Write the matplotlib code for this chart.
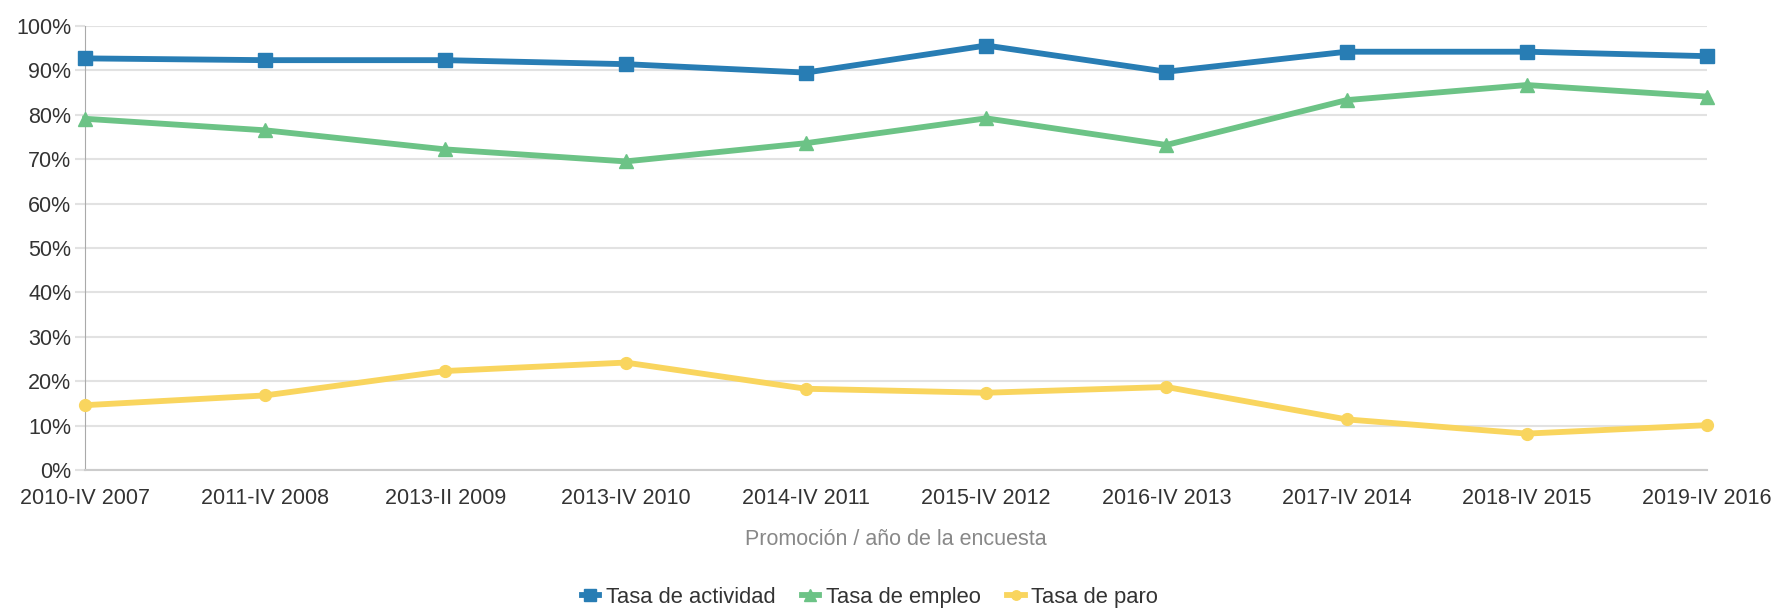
import numpy as np
import matplotlib
matplotlib.use("Agg")
import matplotlib.pyplot as plt

plt.rcParams['font.family'] = ['Liberation Sans', 'DejaVu Sans']

# promoción / año de la encuesta
promociones = ["2010-IV 2007", "2011-IV 2008", "2013-II 2009", "2013-IV 2010",
               "2014-IV 2011", "2015-IV 2012", "2016-IV 2013", "2017-IV 2014",
               "2018-IV 2015", "2019-IV 2016"]

# tasas en %
tasa_actividad = [92.7, 92.3, 92.3, 91.4, 89.5, 95.6, 89.7, 94.2, 94.2, 93.2]
tasa_empleo = [79.1, 76.5, 72.2, 69.5, 73.6, 79.2, 73.2, 83.3, 86.7, 84.1]
tasa_paro = [14.6, 16.8, 22.3, 24.2, 18.3, 17.4, 18.7, 11.4, 8.2, 10.1]

series = [
    ("Tasa de actividad", tasa_actividad, "#287db4", "s", 10.5),
    ("Tasa de empleo", tasa_empleo, "#6cc386", "^", 10.5),
    ("Tasa de paro", tasa_paro, "#f9d55e", "o", 8.5),
]

fig = plt.figure(figsize=(17.75, 6.14), dpi=100)
ax = fig.add_axes([0.0479, 0.2345, 0.9138, 0.7232])

x = np.arange(len(promociones))
for nombre, vals, color, mk, ms in series:
    ax.plot(x, vals, color=color, lw=4.2, marker=mk, markersize=ms,
            label=nombre, clip_on=False, zorder=3)

ax.set_xlim(0, len(promociones) - 1)
ax.set_ylim(0, 100)
ax.set_yticks(np.arange(0, 101, 10))
ax.set_yticklabels([f"{v}%" for v in range(0, 101, 10)])
ax.set_xticks(x)
ax.set_xticklabels(promociones)

ax.grid(axis='y', color='#e2e2e2', lw=1.5, zorder=0)
ax.set_axisbelow(True)
for s in ['top', 'right']:
    ax.spines[s].set_visible(False)
ax.spines['left'].set_color('#aaaaaa')
ax.spines['bottom'].set_color('#cccccc')
ax.spines['bottom'].set_linewidth(1.5)

ax.tick_params(axis='y', length=7, color='#e2e2e2', width=1.5, labelsize=15.5,
               labelcolor='#333333', pad=3)
ax.tick_params(axis='x', length=0, labelsize=15.5, labelcolor='#333333', pad=13)

ax.set_xlabel("Promoción / año de la encuesta", fontsize=15.5, color='#888888',
              labelpad=14)

leg = fig.legend(loc='center', bbox_to_anchor=(0.49, 0.027), ncol=3, frameon=False,
                 fontsize=15.8, handlelength=0.8, handletextpad=0.3,
                 columnspacing=1.2, markerscale=0.8)
for t in leg.get_texts():
    t.set_color('#333333')

fig.savefig("out.png", dpi=100)
